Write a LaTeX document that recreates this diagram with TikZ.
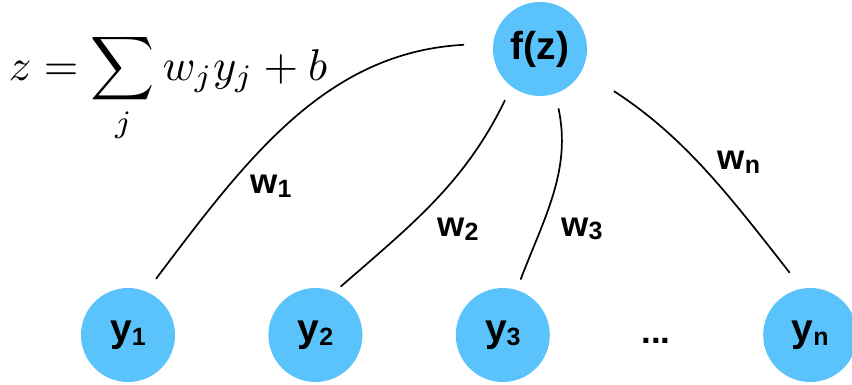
\documentclass[tikz,border=0pt]{standalone}
\usepackage{amsmath}
\usepackage{fontspec}
\usepackage{tikz}
\usetikzlibrary{positioning}
\newfontfamily\labelfont{Liberation Sans}
\definecolor{unitblue}{HTML}{5BC3FC}
\newcommand{\idx}[1]{\raisebox{-0.1em}{\fontsize{25}{25}\selectfont #1}}
\tikzset{
  unit/.style={
    circle,
    fill=unitblue,
    inner sep=0pt,
    minimum size=94pt,
    font=\labelfont\bfseries\fontsize{39}{39}\selectfont
  },
  weightlabel/.style={inner sep=0pt, font=\labelfont\bfseries\fontsize{35}{35}\selectfont},
  synapse/.style={line width=1.7pt, draw=black}
}

\begin{document}
\begin{tikzpicture}[x=1pt, y=-1pt, node distance=93pt]
\useasboundingbox (0,0) rectangle (852,384);
\node[anchor=base west, inner sep=0pt, scale=4.45] (sum) at (8,80) {$\displaystyle z=\sum_j w_j y_j+b$};
\node[unit] (fz) at (540,49) {f(z)};
\node[unit] (y1) at (128,335) {y\idx{1}};
\node[unit, right=of y1] (y2) {y\idx{2}};
\node[unit, right=of y2] (y3) {y\idx{3}};
\node[unit, right=213pt of y3] (yn) {y\idx{n}};
\node[weightlabel, anchor=base] (dots) at (656,343) {...};
\draw[synapse, shorten <=16pt, shorten >=29pt] (y1.67) to[out=53, in=183] (fz.173);
\draw[synapse, shorten <=8pt, shorten >=15pt] (y2.66) to[out=41, in=244] (fz.233.5);
\draw[synapse, shorten <=11pt, shorten >=15pt] (y3.73) to[out=69, in=282] (fz.289);
\draw[synapse, shorten <=38pt, shorten >=20pt] (fz.333) to[out=-33, in=128] (yn.100);
\node[weightlabel] (w1) at (271,186) {w\idx{1}};
\node[weightlabel] (w2) at (458,229) {w\idx{2}};
\node[weightlabel] (w3) at (582,229) {w\idx{3}};
\node[weightlabel] (wn) at (739,162) {w\idx{n}};
\end{tikzpicture}
\end{document}
